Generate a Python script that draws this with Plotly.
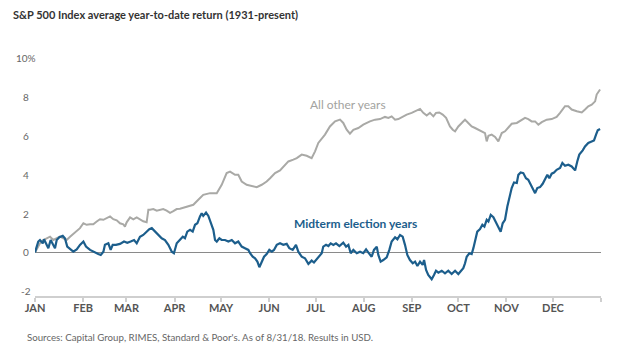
import plotly.graph_objects as go

# Day of year (0-365) and average YTD return (%)
midterm_days = [0, 2.1, 3.2, 5.0, 5.8, 7.5, 8.6, 10.1, 11.8, 12.9, 14.0, 15.7, 17.9, 19.3, 20.8, 22.6, 24.7, 26.9, 29.0,
                31.2, 32.9, 35.5, 38.1, 40.8, 42.4, 44.1, 45.1, 47.3, 48.8, 50.1, 52.2, 54.8, 57.4, 59.5, 61.7, 63.9,
                65.6, 67.7, 69.8, 71.6, 73.7, 75.3, 77.4, 79.5, 81.7, 83.8, 86.0, 88.2, 89.6, 91.4, 93.5, 95.3, 96.7,
                98.2, 100.0, 101.7, 103.2, 104.7, 106.4, 107.5, 108.5, 110.3, 111.8, 113.3, 115.0, 116.1, 117.2,
                118.9, 120.4, 122.5, 124.7, 126.9, 129.0, 131.1, 133.3, 135.4, 137.6, 138.7, 140.4, 141.9, 143.4,
                144.7, 146.2, 147.7, 149.4, 151.1, 152.7, 154.1, 155.9, 158.0, 160.1, 162.3, 164.0, 166.2, 168.3,
                169.8, 172.0, 174.1, 176.3, 178.4, 179.9, 181.7, 183.3, 184.9, 185.9, 187.7, 189.2, 190.7, 192.4,
                194.1, 196.3, 198.8, 200.6, 202.1, 203.6, 205.3, 207.5, 209.6, 211.7, 213.5, 215.0, 217.1, 218.6,
                220.4, 221.4, 222.9, 224.6, 226.8, 228.5, 230.0, 232.2, 233.7, 235.4, 237.1, 238.6, 240.1, 241.8,
                243.6, 245.1, 246.6, 248.3, 250.0, 250.9, 252.2, 253.6, 255.8, 257.3, 258.6, 260.1, 262.3, 264.4,
                266.5, 268.7, 270.9, 273.0, 274.1, 276.2, 277.3, 278.4, 280.1, 281.6, 282.7, 283.8, 285.2, 287.0,
                288.5, 289.8, 291.3, 292.4, 293.9, 295.6, 297.1, 298.4, 300.3, 301.6, 303.1, 304.6, 305.9, 307.4,
                308.9, 310.7, 311.7, 313.2, 314.9, 316.6, 318.1, 319.7, 321.0, 322.5, 323.9, 325.7, 327.4, 328.9,
                330.4, 331.7, 333.2, 334.7, 336.4, 338.6, 340.1, 341.8, 343.9, 346.1, 348.3, 349.7, 351.0, 353.2,
                354.7, 356.8, 359.0, 360.5, 361.8, 362.9, 364.4]
midterm_vals = [0, 0.56, 0.64, 0.47, 0.68, 0.39, 0.22, 0.64, 0.39, 0.22, 0.64, 0.78, 0.85, 0.73, 0.30, 0.18, 0.04, 0.16, 0.39,
                0.56, 0.30, 0.13, 0.01, -0.08, -0.13, 0.04, 0.39, 0.47, 0.13, 0.39, 0.39, 0.44, 0.56, 0.50, 0.56, 0.64,
                0.47, 0.81, 0.90, 1.02, 1.20, 1.25, 1.07, 0.90, 0.73, 0.64, 0.39, 0.04, -0.04, 0.47, 0.64, 0.81, 0.73,
                1.07, 1.16, 1.07, 1.42, 1.50, 1.85, 2.02, 1.88, 2.05, 1.88, 1.59, 1.16, 0.64, 0.56,
                0.73, 0.64, 0.64, 0.56, 0.64, 0.47, 0.56, 0.30, 0.22, 0.13, -0.04, -0.22, -0.30, -0.47,
                -0.76, -0.47, -0.22, -0.08, 0.13, 0.04, 0.13, 0.39, 0.47, 0.39, 0.44, 0.22, 0.13, 0.39,
                0.04, -0.22, -0.30, -0.59, -0.42, -0.52, -0.35, -0.22, -0.04, 0.30, 0.39, 0.33, 0.47, 0.39,
                0.47, 0.33, 0.50, 0.30, 0.39, -0.04, 0.13, -0.04, 0.04, -0.04, 0.16, -0.01, -0.22, 0.13,
                0.30, -0.13, -0.47, -0.39, -0.25, 0.13, 0.56, 0.78, 0.68, 0.90, 0.81, 0.39, -0.13, -0.39,
                -0.56, -0.47, -0.70, -0.47, -0.64, -0.39, -0.90, -1.16, -1.38, -1.16, -0.94, -1.04, -0.94, -1.07,
                -0.94, -1.11, -0.94, -1.11, -0.99, -0.81, -0.56, -0.22, -0.04, -0.08, 0.22, 0.64, 1.07, 1.20,
                1.42, 1.33, 1.68, 1.59, 1.93, 1.81, 1.59, 1.33, 1.07, 1.50, 1.68, 2.36, 2.88, 3.31,
                3.60, 3.57, 3.99, 4.11, 4.08, 3.82, 3.74, 3.48, 3.26, 3.05, 3.31, 3.36, 3.53, 3.74,
                3.99, 3.82, 4.05, 4.11, 4.25, 4.34, 4.60, 4.46, 4.51, 4.42, 4.22, 4.68, 5.03, 5.25,
                5.45, 5.63, 5.71, 5.76, 6.06, 6.28, 6.35]

other_days = [0, 3.2, 5.4, 7.5, 9.7, 11.8, 14.0, 16.1, 18.3, 20.4, 22.6, 24.7, 26.9, 29.0, 31.2, 33.3, 35.5, 37.6, 39.8,
              41.9, 44.1, 46.2, 48.4, 50.5, 52.7, 54.8, 56.9, 58.0, 59.1, 61.3, 63.4, 65.6, 67.7, 69.8, 72.0, 73.1,
              74.2, 76.3, 78.5, 80.6, 82.7, 84.9, 87.1, 89.2, 91.4, 93.5, 97.8, 102.1, 105.3, 108.5, 112.9, 117.2,
              120.4, 123.6, 125.8, 129.0, 131.1, 133.3, 136.5, 139.8, 143.0, 146.2, 149.4, 151.6, 154.8, 158.0,
              161.2, 163.4, 166.6, 168.8, 172.0, 175.2, 178.4, 180.6, 182.7, 184.9, 187.0, 190.2, 193.5, 196.7,
              198.8, 201.0, 203.1, 205.3, 208.5, 211.7, 213.9, 216.0, 219.3, 222.5, 225.7, 227.9, 230.0, 232.2,
              234.3, 237.5, 239.7, 242.9, 246.2, 248.3, 250.4, 252.6, 254.7, 256.9, 258.6, 260.7, 262.9, 265.1,
              267.6, 269.4, 270.9, 273.0, 275.2, 277.3, 279.4, 281.6, 283.8, 285.9, 288.1, 290.2, 291.3, 292.4,
              294.5, 296.7, 298.8, 301.0, 303.1, 305.2, 307.4, 310.7, 313.9, 316.0, 318.1, 320.3, 322.5, 324.6,
              326.8, 330.0, 333.2, 336.4, 338.6, 341.8, 343.9, 346.1, 349.4, 352.6, 354.7, 356.8, 359.0, 361.2,
              362.2, 364.4]
other_vals = [0, 0.47, 0.64, 0.73, 0.81, 0.64, 0.73, 0.81, 0.73, 0.64, 0.81, 0.95, 1.07, 1.25, 1.50, 1.42, 1.45, 1.45, 1.59,
              1.71, 1.68, 1.76, 1.85, 1.71, 1.65, 1.50, 1.45, 1.33, 1.55, 1.80, 1.70, 1.80, 1.70, 1.60, 1.55, 2.20,
              2.20, 2.23, 2.15, 2.19, 2.23, 2.15, 2.04, 2.12, 2.23, 2.25, 2.36, 2.45, 2.71, 2.96, 3.05, 3.05,
              3.48, 4.08, 4.16, 3.99, 3.99, 3.65, 3.48, 3.43, 3.36, 3.48, 3.65, 3.82, 4.08, 4.22,
              4.51, 4.68, 4.77, 4.85, 5.03, 4.97, 4.85, 5.20, 5.63, 5.85, 6.06, 6.48, 6.74, 6.83,
              6.66, 6.31, 6.11, 6.31, 6.40, 6.57, 6.66, 6.74, 6.83, 6.86, 6.97, 6.92, 7.00, 6.83,
              6.86, 7.00, 7.09, 7.18, 7.31, 7.38, 7.18, 7.04, 7.18, 7.00, 7.18, 7.20, 7.09, 6.92,
              6.48, 6.31, 6.23, 6.48, 6.66, 6.83, 6.66, 6.48, 6.40, 6.31, 6.23, 6.14, 5.71, 6.00,
              6.06, 5.94, 5.71, 6.14, 6.23, 6.40, 6.62, 6.66, 6.83, 6.92, 6.86, 6.74, 6.74, 6.57,
              6.70, 6.83, 6.86, 6.97, 7.18, 7.52, 7.52, 7.35, 7.26, 7.20, 7.35, 7.52, 7.60, 7.77,
              8.12, 8.38]

month_starts = [0, 31, 59, 90, 120, 151, 181, 212, 243, 273, 304, 334, 365]
month_labels = ["JAN", "FEB", "MAR", "APR", "MAY", "JUN", "JUL", "AUG", "SEP", "OCT", "NOV", "DEC", ""]
y_ticks = [-2, 0, 2, 4, 6, 8, 10]
y_tick_labels = ["-2", "0", "2", "4", "6", "8", "10%"]

BLUE = "#1c5e8c"
GRAY = "#a9a9a6"
FONT = "Lato, Open Sans, sans-serif"

fig = go.Figure()
fig.add_trace(go.Scatter(x=other_days, y=other_vals, mode="lines",
                         line=dict(color=GRAY, width=2), hoverinfo="skip"))
fig.add_trace(go.Scatter(x=midterm_days, y=midterm_vals, mode="lines",
                         line=dict(color=BLUE, width=2.2), hoverinfo="skip"))

# page body adds an 8px offset, so figure coordinates are shifted by -8
W, H = 630, 359
OFF = 8
L, T = 35 - OFF, 58 - OFF
R = W - (601 - OFF)
B = H - (296 - OFF)
pw = W - L - R
ph = H - T - B

annotations = []
for v, t in zip(y_ticks, y_tick_labels):
    annotations.append(dict(x=0, xref="paper", xshift=-9, y=v, yref="y", text=t, showarrow=False,
                            xanchor="center", yanchor="middle",
                            font=dict(family=FONT, size=10, color="#666")))
annotations.append(dict(x=202, y=7.6, xref="x", yref="y", text="All other years", showarrow=False,
                        font=dict(family=FONT, size=12, color="#a3a3a0")))
annotations.append(dict(x=207, y=1.47, xref="x", yref="y", text="<b>Midterm election years</b>", showarrow=False,
                        font=dict(family=FONT, size=12, color=BLUE)))
annotations.append(dict(x=(25 - 35) / pw, y=(296 - 337) / ph, xref="paper", yref="paper",
                        text="Sources: Capital Group, RIMES, Standard & Poor's. As of 8/31/18. Results in USD.",
                        showarrow=False, xanchor="left", yanchor="middle",
                        font=dict(family=FONT, size=9.7, color="#666")))

fig.update_layout(
    width=W, height=H,
    margin=dict(l=L, r=R, t=T, b=B),
    paper_bgcolor="white", plot_bgcolor="white",
    showlegend=False,
    title=dict(text="<b>S&P 500 Index average year-to-date return (1931-present)</b>",
               xref="container", yref="container", x=(13 - OFF) / W, y=1 - (15 - OFF) / H,
               xanchor="left", yanchor="middle",
               font=dict(family=FONT, size=11, color="#333")),
    xaxis=dict(range=[0, 365], tickvals=month_starts, ticktext=month_labels,
               showgrid=False, zeroline=False, showline=True, linecolor="#cfcfcf", linewidth=1.5,
               ticks="outside", ticklen=4, tickcolor="#cfcfcf", tickwidth=1.5,
               ticklabelstandoff=-3,
               tickfont=dict(family=FONT, size=11, color="#555", weight="bold"),
               fixedrange=True),
    yaxis=dict(range=[-2.24, 10.0], tickvals=y_ticks, showticklabels=False, showgrid=False,
               zeroline=True, zerolinecolor="#8a8a8a", zerolinewidth=1, showline=False,
               fixedrange=True),
    annotations=annotations,
)

fig.write_html("out.html")
